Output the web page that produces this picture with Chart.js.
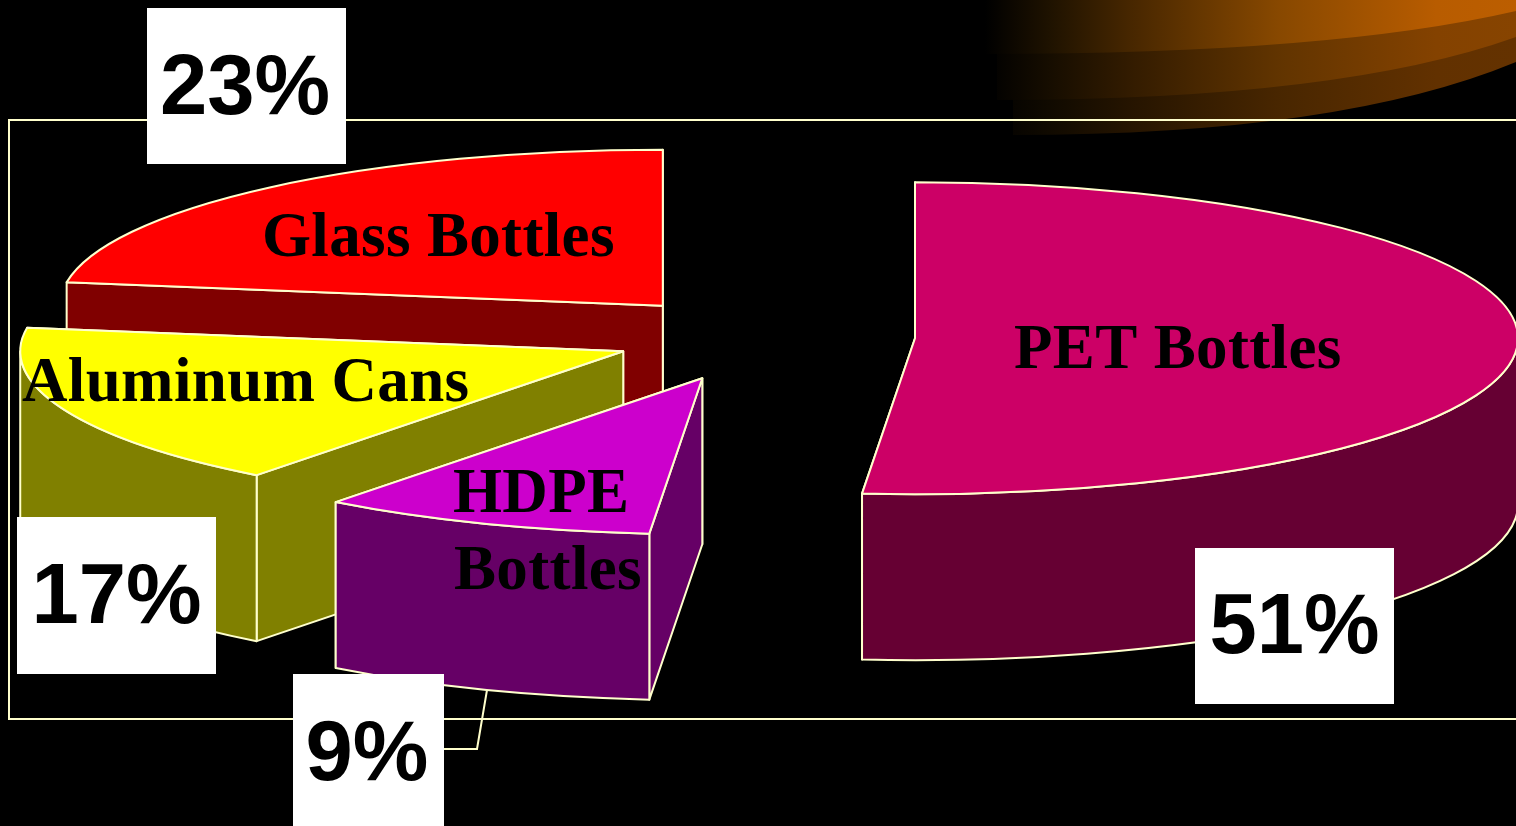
<!DOCTYPE html>
<html>
<head>
<meta charset="utf-8">
<title>Plastic and container recycling shares</title>
<script src="https://cdn.jsdelivr.net/npm/chart.js@4/dist/chart.umd.js"></script>
<style>
  html, body { margin: 0; padding: 0; background: #000; overflow: hidden; }
  canvas { display: block; }
</style>
</head>
<body>
<canvas id="pie" width="1516" height="826"></canvas>
<script>
// data, clockwise from 12 o'clock
var categories = ['PET Bottles', 'HDPE Bottles', 'Aluminum Cans', 'Glass Bottles'];
var values = [51.4, 9, 17, 22.6];
var percentLabels = ['51%', '9%', '17%', '23%'];

var topColors = ['#CC0066', '#CC00CC', '#FFFF00', '#FF0000'];
var wallColors = ['#660033', '#660066', '#808000', '#800000'];
var explode = [0.249, 0.287, 0.2535, 0.26]; // share of the radius
var paintOrder = [3, 2, 1, 0]; // back to front

var LINE = '#FFFFCC';
var RX = 603, RY = 156, DEPTH = 166;
var CENTER_X = 765, CENTER_Y = 336.5;

// squash the round pie into the tilted ellipse
function tilt(ctx, arc) {
  var r = arc.outerRadius;
  ctx.translate(CENTER_X, CENTER_Y);
  ctx.scale(RX / r, RY / r);
  ctx.translate(-arc.x, -arc.y);
}

// build path in tilted space, then fill and stroke with a normal pen
function paintFace(ctx, arc, color, build) {
  ctx.save();
  tilt(ctx, arc);
  ctx.beginPath();
  build();
  ctx.restore();
  if (color) {
    ctx.fillStyle = color;
    ctx.fill();
  }
  ctx.lineWidth = 2;
  ctx.lineJoin = 'round';
  ctx.strokeStyle = LINE;
  ctx.stroke();
}

function drawSlice(ctx, arc, i) {
  var mid = (arc.startAngle + arc.endAngle) / 2;
  var r = arc.outerRadius;
  var off = explode[i] * r;
  var dx = Math.cos(mid) * off, dy = Math.sin(mid) * off;
  var cx = arc.x + dx;
  var cy = arc.y + dy;
  var d = DEPTH / (RY / r);

  function edgeWall(a) {
    var ex = cx + Math.cos(a) * r, ey = cy + Math.sin(a) * r;
    ctx.moveTo(cx, cy);
    ctx.lineTo(ex, ey);
    ctx.lineTo(ex, ey + d);
    ctx.lineTo(cx, cy + d);
    ctx.closePath();
  }

  // back edge first, then front edge, then the rim
  paintFace(ctx, arc, wallColors[i], function () { edgeWall(arc.endAngle); });
  paintFace(ctx, arc, wallColors[i], function () { edgeWall(arc.startAngle); });

  var a0 = Math.max(arc.startAngle, 0), a1 = Math.min(arc.endAngle, Math.PI);
  if (a1 > a0) {
    paintFace(ctx, arc, wallColors[i], function () {
      ctx.arc(cx, cy, r, a0, a1);
      ctx.arc(cx, cy + d, r, a1, a0, true);
      ctx.closePath();
    });
  }

  // top face is the library's own arc element
  ctx.save();
  tilt(ctx, arc);
  ctx.translate(dx, dy);
  arc.draw(ctx);
  ctx.restore();
  paintFace(ctx, arc, null, function () {
    ctx.moveTo(cx, cy);
    ctx.arc(cx, cy, r, arc.startAngle, arc.endAngle);
    ctx.closePath();
  });
}

function swooshLayer(ctx, x0, y0, cpx, yEnd, k) {
  var g = ctx.createLinearGradient(985, 0, 1516, 0);
  function shade(r, gr) {
    return 'rgb(' + Math.round(r * k) + ',' + Math.round(gr * k) + ',0)';
  }
  g.addColorStop(0, shade(0, 0));
  g.addColorStop(0.12, shade(30, 18));
  g.addColorStop(0.27, shade(70, 38));
  g.addColorStop(0.55, shade(135, 72));
  g.addColorStop(0.85, shade(184, 92));
  g.addColorStop(1, shade(188, 94));
  ctx.fillStyle = g;
  ctx.beginPath();
  ctx.moveTo(x0, 0);
  ctx.lineTo(x0, y0);
  ctx.quadraticCurveTo(cpx, y0, 1516, yEnd);
  ctx.lineTo(1516, 0);
  ctx.closePath();
  ctx.fill();
}

var slidePlugin = {
  id: 'slide',
  beforeDatasetsDraw: function (chart) {
    var ctx = chart.ctx;
    ctx.save();
    ctx.fillStyle = '#000';
    ctx.fillRect(0, 0, chart.width, chart.height);
    swooshLayer(ctx, 1013, 135, 1340, 62, 0.53);
    swooshLayer(ctx, 997, 100, 1340, 37, 0.72);
    swooshLayer(ctx, 985, 54, 1330, 11, 1);
    // plot frame
    ctx.strokeStyle = LINE;
    ctx.lineWidth = 2;
    ctx.strokeRect(9, 120, 1600, 599);

    var arcs = chart.getDatasetMeta(0).data;
    paintOrder.forEach(function (i) { drawSlice(ctx, arcs[i], i); });
    ctx.restore();
    return false; // slices are already painted, in our order
  },
  afterDraw: function (chart) {
    var ctx = chart.ctx;
    ctx.save();

    // category names
    ctx.fillStyle = '#000';
    ctx.textAlign = 'left';
    ctx.textBaseline = 'alphabetic';
    ctx.font = 'bold 63px "Liberation Serif"';
    ctx.letterSpacing = '0.35px';
    ctx.fillText(categories[3], 262, 256);
    ctx.fillText(categories[2], 22, 401);
    ctx.fillText(categories[1].split(' ')[0], 453, 512);
    ctx.fillText(categories[1].split(' ')[1], 454, 589);
    ctx.fillText(categories[0], 1014, 368);
    ctx.letterSpacing = '0px';

    // leader line for the small slice
    ctx.strokeStyle = LINE;
    ctx.lineWidth = 2;
    ctx.beginPath();
    ctx.moveTo(487, 690);
    ctx.lineTo(477, 749);
    ctx.lineTo(440, 749);
    ctx.stroke();

    // percent boxes: x, y, w, h, text centre, baseline
    var boxes = [
      [1195, 548, 199, 156, 1294.5, 653],
      [293, 674, 151, 152, 367, 780],
      [17, 517, 199, 157, 116.5, 623],
      [147, 8, 199, 156, 245, 114]
    ];
    ctx.font = 'bold 85px "Liberation Sans"';
    ctx.textAlign = 'center';
    boxes.forEach(function (b, i) {
      ctx.fillStyle = '#FFFFFF';
      ctx.fillRect(b[0], b[1], b[2], b[3]);
      ctx.fillStyle = '#000';
      ctx.fillText(percentLabels[i], b[4], b[5]);
    });
    ctx.restore();
  }
};

var pieChart = new Chart(document.getElementById('pie'), {
  type: 'pie',
  data: {
    labels: categories,
    datasets: [{
      data: values,
      backgroundColor: topColors,
      borderWidth: 0
    }]
  },
  options: {
    responsive: false,
    animation: false,
    devicePixelRatio: 1,
    events: [],
    layout: { padding: 0 },
    plugins: { legend: { display: false }, tooltip: { enabled: false } }
  },
  plugins: [slidePlugin]
});
</script>
</body>
</html>
